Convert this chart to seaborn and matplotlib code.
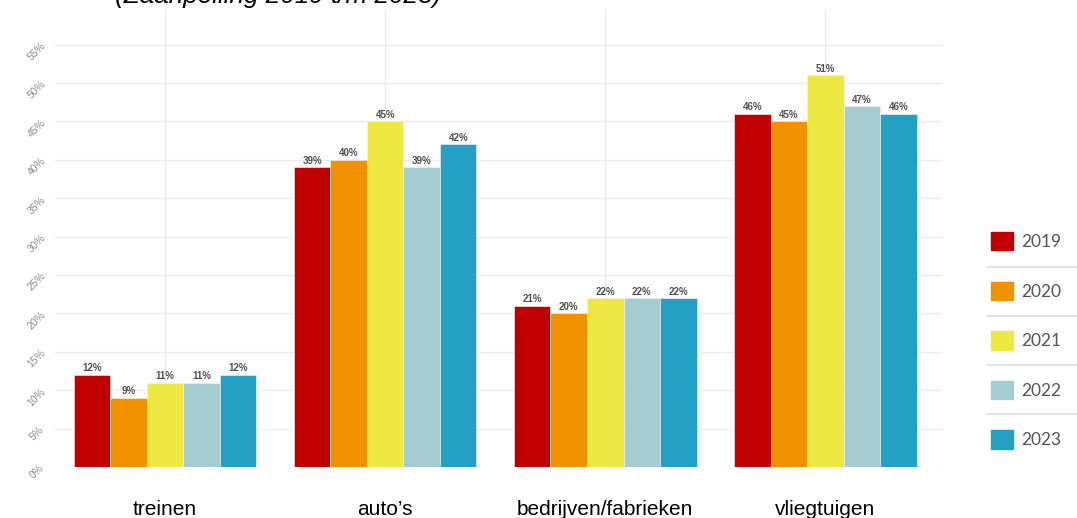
import numpy as np
import pandas as pd
import matplotlib.pyplot as plt
import seaborn as sns
from matplotlib.patches import Patch
from matplotlib.lines import Line2D

sns.set_theme(style="white")
plt.rcParams['font.family'] = ['Liberation Sans', 'DejaVu Sans']

categories = ["treinen", "auto\u2019s", "bedrijven/fabrieken", "vliegtuigen"]
years = ["2019", "2020", "2021", "2022", "2023"]
v2019 = [12, 39, 21, 46]
v2020 = [9, 40, 20, 45]
v2021 = [11, 45, 22, 51]
v2022 = [11, 39, 22, 47]
v2023 = [12, 42, 22, 46]
colors = ["#C00000", "#F09200", "#EEE843", "#A5CDD1", "#24A0C4"]

rows = []
for yr, vals in zip(years, [v2019, v2020, v2021, v2022, v2023]):
    for c, v in zip(categories, vals):
        rows.append({"bron": c, "jaar": yr, "pct": v})
df = pd.DataFrame(rows)

fig = plt.figure(figsize=(10.77, 5.18), dpi=100)
ax = fig.add_axes([55/1077, 1-467/518, (942-55)/1077, (467-10)/518])

sns.barplot(data=df, x="bron", y="pct", hue="jaar", palette=colors,
            order=categories, hue_order=years, width=0.83, ax=ax,
            legend=False, linewidth=0.4, edgecolor="#F4F4F4", saturation=1)

for cont in ax.containers:
    ax.bar_label(cont, labels=[f"{int(round(b.get_height()))}%" for b in cont],
                 fontsize=7, fontweight="bold", color="#505050", padding=1)

ax.set_xlim(-0.5, 3.53)
ax.set_ylim(0, 59.5)
ax.set_yticks(range(0, 60, 5))
ax.set_yticklabels([f"{t}%" for t in range(0, 60, 5)], rotation=45,
                   fontsize=7.5, color="#8C8C8C", ha="center")
ax.tick_params(axis="y", length=0, pad=13)
ax.tick_params(axis="x", length=0, pad=24, labelsize=15, labelcolor="black")
ax.set_xlabel("")
ax.set_ylabel("")
ax.grid(True, color="#EBEBEB", linewidth=1)
ax.set_axisbelow(True)
for s in ax.spines.values():
    s.set_visible(False)

fig.text(115/1077, 1-3/518, "(Zaanpeiling 2019 t/m 2023)", fontsize=18.8,
         style="italic", ha="left", va="baseline", color="black")

handles = [Patch(facecolor=c, edgecolor=c, label=y) for c, y in zip(colors, years)]
leg = fig.legend(handles=handles, loc="upper left",
                 bbox_to_anchor=(991/1077, 1-232/518), frameon=False,
                 prop={"family": ["Lato", "DejaVu Sans"], "size": 12.5},
                 labelcolor="#555555", handlelength=1.25, handleheight=1.25,
                 labelspacing=1.8, handletextpad=0.5, borderpad=0, borderaxespad=0)

for yy in [267, 316, 365, 414]:
    fig.add_artist(Line2D([987/1077, 1.0], [1-yy/518, 1-yy/518],
                          color="#DCDCE6", linewidth=1.2))

fig.savefig("out.png", dpi=100)
